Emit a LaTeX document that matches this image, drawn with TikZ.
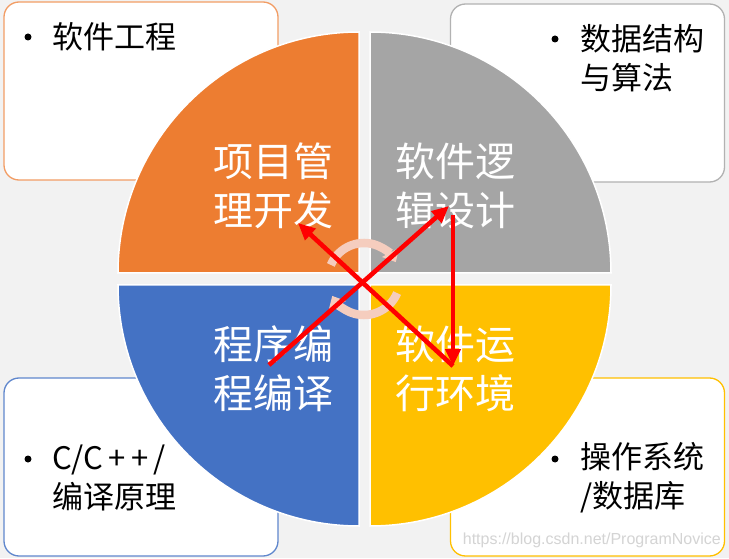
\documentclass[tikz,border=0pt]{standalone}
\usepackage{fontspec}
\usepackage{xcolor}
\usepackage{tikz}
\usetikzlibrary{arrows.meta, positioning}
\newfontfamily\cjk{Noto Sans CJK SC}
\newfontfamily\wmfont{Liberation Sans}
\definecolor{bgGray}{HTML}{F2F2F2}
\definecolor{qOrange}{HTML}{ED7D31}
\definecolor{qGray}{HTML}{A5A5A5}
\definecolor{qBlue}{HTML}{4472C4}
\definecolor{qYellow}{HTML}{FFC000}
\definecolor{ringPink}{HTML}{F5CDBE}
\tikzset{
    infobox/.style={rectangle, rounded corners=15pt, fill=white, line width=1.3pt, minimum width=274pt, minimum height=178pt, inner sep=0pt},
    dotmark/.style={circle, fill=black, minimum size=7pt, inner sep=0pt},
    boxtext/.style={font=\cjk\fontsize{31}{39}\selectfont, align=left, anchor=west, inner sep=0pt},
    quadtext/.style={font=\cjk\fontsize{40}{49}\selectfont, text=white, align=center, inner sep=0pt},
    quad/.style={draw=white, line width=1.5pt},
    redarrow/.style={draw=red, line width=4.6pt, -{Triangle[length=17pt, width=15pt]}},
    ringarrow/.style={draw=ringPink, line width=8.5pt, -{Triangle[length=11pt, width=19pt]}}
}
\begin{document}
\begin{tikzpicture}[x=1pt, y=1pt]
  \fill[bgGray] (0,0) rectangle (729,558);
  \useasboundingbox (0,0) rectangle (729,558);
  \node[infobox, draw=qOrange!75] (tlBox) at (141,467) {};
  \node[infobox, draw=qGray!85] (trBox) at (587.5,465) {};
  \node[infobox, draw=qBlue!85] (blBox) at (141,91) {};
  \node[infobox, draw=qYellow] (brBox) at (587.5,91) {};
  \node[dotmark] (tlDot) at (28,521) {};
  \node[boxtext] (tlTxt) at (52,521) {软件工程};
  \node[dotmark] (trDot) at (555,519) {};
  \node[boxtext] (trTxt) at (580,499.5) {数据结构\\与算法};
  \node[dotmark] (blDot) at (28,99) {};
  \node[boxtext] (blTxt) at (52,80) {C/C\,+\,+\,/\\编译原理};
  \node[dotmark] (brDot) at (555,99) {};
  \node[boxtext] (brTxt) at (580,80) {操作系统\\/数据库};
  \path[quad, fill=qOrange] (359,285) -- ++(180:241) arc[start angle=180, end angle=90, radius=241] -- cycle;
  \path[quad, fill=qGray] (370,285) -- ++(90:241) arc[start angle=90, end angle=0, radius=241] -- cycle;
  \path[quad, fill=qBlue] (359,273) -- ++(270:241) arc[start angle=270, end angle=180, radius=241] -- cycle;
  \path[quad, fill=qYellow] (370,273) -- ++(0:241) arc[start angle=360, end angle=270, radius=241] -- cycle;
  \node[quadtext] (projTxt) at (273,372) {项目管\\理开发};
  \node[quadtext] (logicTxt) at (455,372) {软件逻\\辑设计};
  \node[quadtext] (progTxt) at (273,189) {程序编\\程编译};
  \node[quadtext] (envTxt) at (455,189) {软件运\\行环境};
  \coordinate (hub) at (364,279);
  \draw[ringarrow] ([shift={(157:36)}]hub) arc[start angle=157, end angle=28, radius=36];
  \draw[ringarrow] ([shift={(-23:36)}]hub) arc[start angle=-23, end angle=-152, radius=36];
  \coordinate (progPt) at (269,193);
  \coordinate (logicPt) at (449,352);
  \coordinate (logicTop) at (453,343);
  \coordinate (envPt) at (453,192);
  \coordinate (projPt) at (298,335);
  \draw[redarrow] (progPt) -- (logicPt);
  \draw[redarrow] (logicTop) -- (envPt);
  \draw[redarrow] (envPt) -- (projPt);
  \node[font=\wmfont\fontsize{16}{18}\selectfont, text=black!17, anchor=east, inner sep=0pt] (wmark) at (721,18) {https://blog.csdn.net/ProgramNovice};
\end{tikzpicture}
\end{document}
